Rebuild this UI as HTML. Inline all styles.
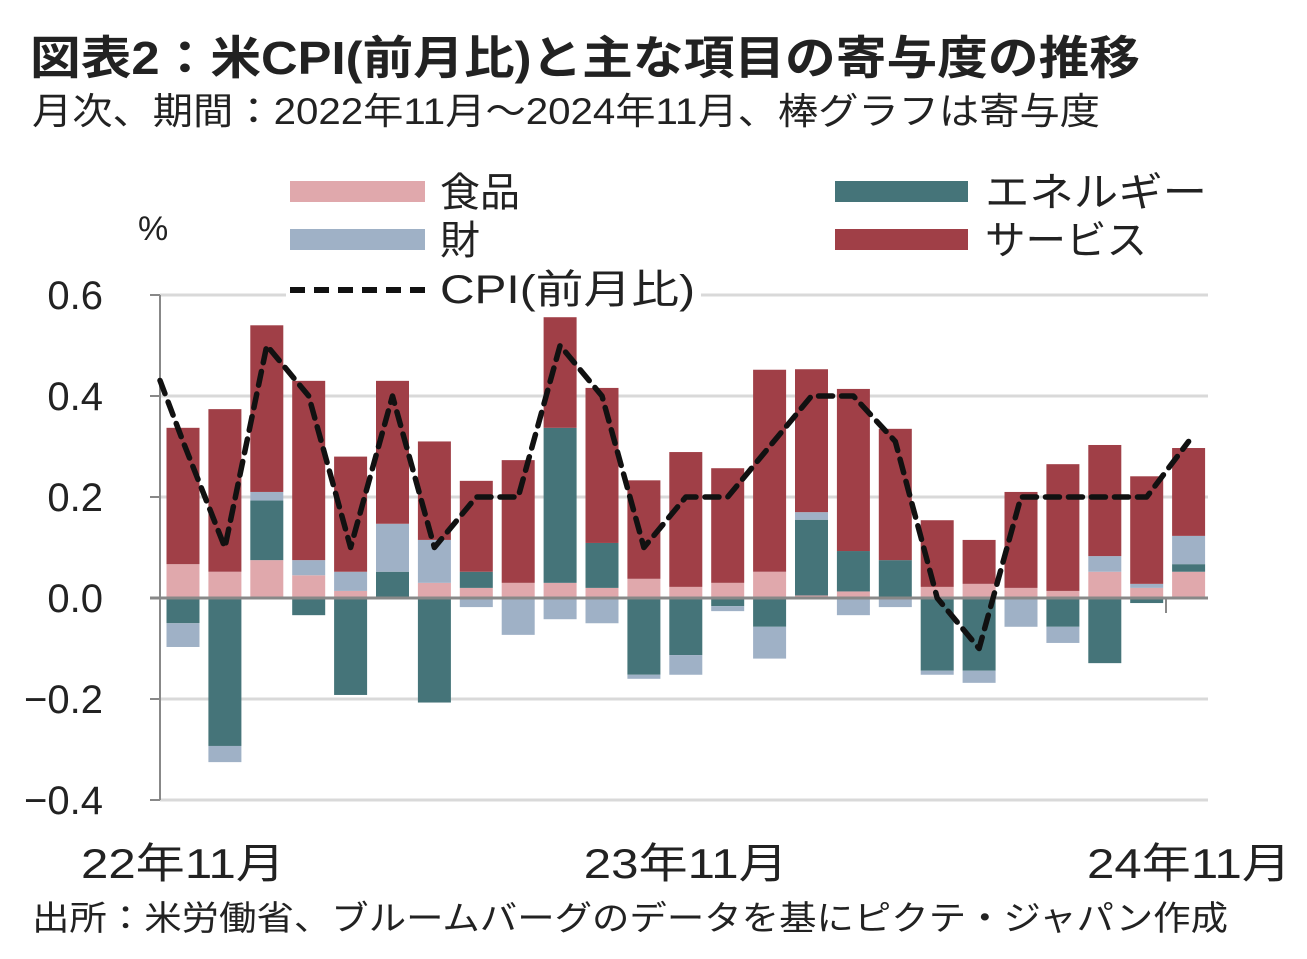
<!DOCTYPE html>
<html><head><meta charset="utf-8"><style>
body{margin:0;background:#fff;}
svg text{font-family:"Liberation Sans","Noto Sans CJK JP",sans-serif;fill:#222;}
</style></head><body>
<svg id="chart" width="1307" height="954" viewBox="0 0 1307 954" xmlns="http://www.w3.org/2000/svg">
<text x="30" y="74" font-size="46" font-weight="bold" fill="#333" textLength="1110" lengthAdjust="spacingAndGlyphs">図表2：米CPI(前月比)と主な項目の寄与度の推移</text>
<text x="32" y="124" font-size="37" fill="#444" textLength="1068" lengthAdjust="spacingAndGlyphs">月次、期間：2022年11月～2024年11月、棒グラフは寄与度</text>
<text x="138" y="240" font-size="34">%</text>
<g id="grid"></g><g id="bars"></g><g id="axes"></g><g id="line"></g>
<g>
<rect x="290" y="181" width="135" height="21" fill="#e0a8ac"/>
<text x="440" y="206" font-size="40">食品</text>
<rect x="290" y="229" width="135" height="21" fill="#9fb1c6"/>
<text x="440" y="254" font-size="40">財</text>
<rect x="286" y="270" width="415" height="40" fill="#fff"/>
<line x1="290" y1="290" x2="425" y2="290" stroke="#111" stroke-width="6" stroke-dasharray="15,9"/>
<text x="440" y="303" font-size="40" textLength="255" lengthAdjust="spacingAndGlyphs">CPI(前月比)</text>
<rect x="835" y="181" width="133" height="21" fill="#457479"/>
<text x="985" y="206" font-size="40" textLength="222" lengthAdjust="spacingAndGlyphs">エネルギー</text>
<rect x="835" y="229" width="133" height="21" fill="#a03f47"/>
<text x="985" y="254" font-size="40" textLength="162" lengthAdjust="spacingAndGlyphs">サービス</text>
</g>
<text x="32" y="930" font-size="34" fill="#333" textLength="1196" lengthAdjust="spacingAndGlyphs">出所：米労働省、ブルームバーグのデータを基にピクテ・ジャパン作成</text>
</svg>
<script>
const months = ["22/11","22/12","23/01","23/02","23/03","23/04","23/05","23/06","23/07","23/08","23/09","23/10","23/11","23/12","24/01","24/02","24/03","24/04","24/05","24/06","24/07","24/08","24/09","24/10","24/11"];
const food = [0.067,0.052,0.075,0.045,0.014,0,0.03,0.02,0.03,0.03,0.02,0.038,0.022,0.03,0.052,0.005,0.013,0,0.022,0.028,0.02,0.014,0.052,0.02,0.052];
const energy = [-0.05,-0.293,0.118,-0.034,-0.192,0.052,-0.207,0.032,0,0.307,0.089,-0.152,-0.113,-0.016,-0.057,0.15,0.08,0.075,-0.144,-0.144,0,-0.057,-0.129,-0.01,0.015];
const goods = [-0.047,-0.032,0.017,0.03,0.038,0.095,0.085,-0.018,-0.073,-0.042,-0.05,-0.008,-0.039,-0.01,-0.063,0.015,-0.034,-0.018,-0.008,-0.024,-0.057,-0.032,0.031,0.008,0.056];
const services = [0.27,0.322,0.33,0.355,0.228,0.283,0.195,0.18,0.243,0.219,0.307,0.195,0.267,0.227,0.4,0.283,0.321,0.26,0.132,0.087,0.19,0.251,0.22,0.213,0.174];
const cpi = [0.31,0.1,0.5,0.4,0.1,0.4,0.1,0.2,0.2,0.5,0.4,0.1,0.2,0.2,0.3,0.4,0.4,0.31,0.0,-0.1,0.2,0.2,0.2,0.2,0.31];
const cpiPrev = 0.53;
const yTicks = [0.6,0.4,0.2,0.0,-0.2,-0.4];
const yTickLabels = ["0.6","0.4","0.2","0.0","\u22120.2","\u22120.4"];
const xLabelIdx = [0,12,24];
const xLabels = ["22年11月","23年11月","24年11月"];

const NS="http://www.w3.org/2000/svg";
const X0=160,X1=1208,Y0=598,PX=505;
const step=41.9, first=183, bw=33;
const y=v=>Y0-v*PX;
const xc=i=>first+i*step;
function mk(tag,attrs,parent){const e=document.createElementNS(NS,tag);for(const k in attrs)e.setAttribute(k,attrs[k]);parent.appendChild(e);return e;}
const grid=document.getElementById('grid'),bars=document.getElementById('bars'),axes=document.getElementById('axes'),lineG=document.getElementById('line');
yTicks.forEach((t,i)=>{
  if(t!==0){const g=mk('line',{x1:X0,x2:X1,y1:y(t),y2:y(t),stroke:'#d9d9d9','stroke-width':3},grid);
  
  }
  const tk=mk('line',{x1:150,x2:X0,y1:y(t),y2:y(t),stroke:'#888','stroke-width':2},axes);
  
  
  const tx=mk('text',{x:103,y:y(t)+14,'font-size':40,'text-anchor':'end'},axes);
  tx.textContent=yTickLabels[i];
  
  
});
const cols={food:'#e0a8ac',energy:'#457479',goods:'#9fb1c6',services:'#a03f47'};
months.forEach((m,i)=>{
  let pos=0,neg=0;
  [['food',food[i]],['energy',energy[i]],['goods',goods[i]],['services',services[i]]].forEach(([k,v])=>{
    if(v===0)return;
    let a,b;
    if(v>0){a=pos;b=pos+v;pos=b;}else{a=neg;b=neg+v;neg=b;}
    const top=y(Math.max(a,b)),h=Math.abs(y(a)-y(b));
    const r=mk('rect',{x:xc(i)-bw/2,y:top,width:bw,height:h,fill:cols[k]},bars);
    
    
  });
});
const ya=mk('line',{x1:X0,x2:X0,y1:295,y2:800,stroke:'#888','stroke-width':2},axes);


const za=mk('line',{x1:150,x2:X1,y1:Y0,y2:Y0,stroke:'#888','stroke-width':3},axes);


[X0,1166].forEach(xx=>{const t=mk('line',{x1:xx,x2:xx,y1:Y0,y2:Y0+15,stroke:'#888','stroke-width':2},axes);

});
xLabelIdx.forEach((idx,i)=>{
  const t=mk('text',{x:xc(idx)-102,y:878,'font-size':42,textLength:204,lengthAdjust:'spacingAndGlyphs'},axes);
  if(i===2){t.setAttribute('x',1285-198);}
  t.textContent=xLabels[i];
  
  
});
const pts=cpi.map((v,i)=>[xc(i),y(v)]);
const px=xc(-1),py=y(cpiPrev),f=(X0-px)/(pts[0][0]-px);
pts.unshift([X0,py+(pts[0][1]-py)*f]);
const pl=mk('polyline',{points:pts.map(p=>p.join(',')).join(' '),fill:'none',stroke:'#111','stroke-width':5.5,'stroke-dasharray':'14,9','stroke-linejoin':'round','stroke-linecap':'round'},lineG);


</script>
</body></html>
